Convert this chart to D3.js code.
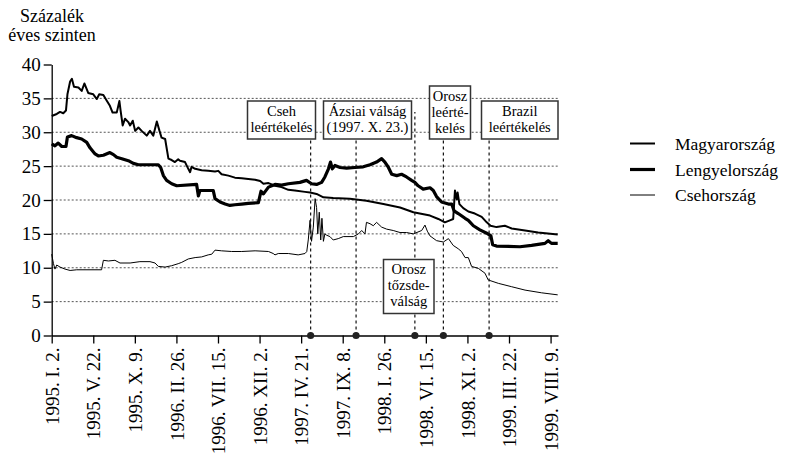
<!DOCTYPE html>
<html>
<head>
<meta charset="utf-8">
<script src="https://cdn.jsdelivr.net/npm/d3@7"></script>
<style>
  body { margin: 0; background: #fff; }
  svg, svg text { font-family: "Liberation Serif", "DejaVu Serif", "Times New Roman", serif !important; }
</style>
</head>
<body>
<svg id="chart" width="785" height="459" font-family="Liberation Serif, DejaVu Serif, serif"></svg>
<script>
// Tick dates (every 20 weeks) and their labels
const tickDates = ["1995-01-02", "1995-05-22", "1995-10-09", "1996-02-26", "1996-07-15", "1996-12-02",
                   "1997-04-21", "1997-09-08", "1998-01-26", "1998-06-15", "1998-11-02", "1999-03-22", "1999-08-09"];
const tickLabels = ["1995. I. 2.", "1995. V. 22.", "1995. X. 9.", "1996. II. 26.", "1996. VII. 15.", "1996. XII. 2.",
                    "1997. IV. 21.", "1997. IX. 8.", "1998. I. 26.", "1998. VI. 15.", "1998. XI. 2.", "1999. III. 22.", "1999. VIII. 9."];
const yTicks = [0, 5, 10, 15, 20, 25, 30, 35, 40];
const gridValues = [5, 10, 15, 20, 25, 30, 35];

// Magyarország
const magyar = [
  ["1995-01-02", 32.4], ["1995-01-19", 32.7], ["1995-01-30", 33.0], ["1995-02-10", 32.8], ["1995-02-19", 33.2],
  ["1995-02-24", 35.6], ["1995-03-05", 37.5], ["1995-03-11", 37.9], ["1995-03-18", 36.7], ["1995-04-02", 36.6],
  ["1995-04-13", 36.1], ["1995-04-22", 37.2], ["1995-05-05", 35.8], ["1995-05-22", 35.6], ["1995-06-03", 34.9],
  ["1995-06-11", 35.6], ["1995-06-25", 35.5], ["1995-07-06", 34.7], ["1995-07-17", 33.9], ["1995-07-26", 32.9],
  ["1995-08-09", 32.9], ["1995-08-18", 34.6], ["1995-08-22", 33.2], ["1995-08-29", 31.0], ["1995-09-06", 32.0],
  ["1995-09-17", 31.5], ["1995-09-23", 31.0], ["1995-10-02", 31.7], ["1995-10-10", 30.2], ["1995-10-21", 30.7],
  ["1995-11-01", 30.2], ["1995-11-18", 29.5], ["1995-11-29", 30.2], ["1995-12-10", 29.5], ["1995-12-22", 31.6],
  ["1995-12-31", 30.2], ["1996-01-07", 29.2], ["1996-01-19", 29.0], ["1996-01-30", 26.1], ["1996-02-10", 25.9],
  ["1996-02-21", 25.6], ["1996-03-03", 26.0], ["1996-03-09", 25.8], ["1996-03-26", 25.6], ["1996-04-06", 24.6],
  ["1996-04-12", 24.1], ["1996-04-17", 24.9], ["1996-04-29", 24.6], ["1996-05-21", 24.4], ["1996-06-12", 24.3],
  ["1996-07-05", 24.2], ["1996-07-16", 24.3], ["1996-07-27", 23.8], ["1996-08-19", 23.6], ["1996-09-10", 23.3],
  ["1996-10-03", 23.2], ["1996-10-25", 23.1], ["1996-11-17", 23.0], ["1996-12-04", 22.8], ["1996-12-15", 22.4],
  ["1997-01-01", 22.5], ["1997-01-23", 22.1], ["1997-02-14", 21.9], ["1997-03-09", 21.5], ["1997-03-31", 21.4],
  ["1997-05-04", 21.2], ["1997-05-21", 21.1], ["1997-06-12", 20.9], ["1997-07-05", 20.4], ["1997-08-07", 20.3],
  ["1997-10-02", 20.2], ["1997-11-27", 19.9], ["1998-01-23", 19.4], ["1998-03-20", 18.9], ["1998-05-04", 18.2],
  ["1998-06-29", 17.7], ["1998-07-27", 17.2], ["1998-08-18", 16.7], ["1998-09-04", 17.0], ["1998-09-15", 17.2],
  ["1998-09-21", 21.4], ["1998-09-27", 20.1], ["1998-09-30", 21.1], ["1998-10-06", 19.4], ["1998-10-19", 18.8],
  ["1998-11-05", 18.3], ["1998-11-27", 18.0], ["1998-12-20", 17.5], ["1999-01-06", 16.7], ["1999-01-19", 16.2],
  ["1999-02-08", 16.0], ["1999-03-08", 16.2], ["1999-03-31", 15.8], ["1999-05-15", 15.5], ["1999-06-28", 15.2],
  ["1999-09-02", 14.9]
];

// Lengyelország
const lengyel = [
  ["1995-01-02", 28.3], ["1995-01-13", 28.0], ["1995-01-24", 28.4], ["1995-02-05", 27.9], ["1995-02-19", 27.9],
  ["1995-02-24", 29.3], ["1995-03-10", 29.5], ["1995-03-27", 29.2], ["1995-04-13", 29.0], ["1995-04-30", 28.5],
  ["1995-05-11", 27.7], ["1995-05-28", 26.8], ["1995-06-08", 26.5], ["1995-06-25", 26.6], ["1995-07-17", 27.0],
  ["1995-07-29", 26.7], ["1995-08-09", 26.3], ["1995-08-26", 26.1], ["1995-09-17", 25.8], ["1995-10-04", 25.4],
  ["1995-10-21", 25.2], ["1995-11-29", 25.2], ["1995-12-27", 25.2], ["1996-01-04", 24.8], ["1996-01-13", 23.6],
  ["1996-01-24", 22.9], ["1996-02-10", 22.4], ["1996-02-27", 22.1], ["1996-05-04", 22.3], ["1996-05-10", 20.6],
  ["1996-05-15", 21.4], ["1996-06-29", 21.4], ["1996-07-05", 20.2], ["1996-07-22", 19.7], ["1996-08-08", 19.4],
  ["1996-08-24", 19.2], ["1996-09-10", 19.3], ["1996-10-03", 19.4], ["1996-10-25", 19.5], ["1996-11-28", 19.6],
  ["1996-12-07", 21.3], ["1996-12-15", 20.9], ["1997-01-01", 21.9], ["1997-01-23", 22.3], ["1997-02-14", 22.2],
  ["1997-03-09", 22.4], ["1997-04-17", 22.6], ["1997-05-09", 22.9], ["1997-05-26", 22.4], ["1997-06-12", 22.3],
  ["1997-06-29", 22.6], ["1997-07-10", 23.4], ["1997-07-22", 24.6], ["1997-07-29", 25.6], ["1997-08-04", 24.6],
  ["1997-08-13", 25.1], ["1997-08-30", 24.8], ["1997-09-21", 24.7], ["1997-10-19", 24.8], ["1997-11-16", 24.9],
  ["1997-12-09", 25.2], ["1997-12-31", 25.6], ["1998-01-17", 26.1], ["1998-01-28", 25.6], ["1998-02-09", 24.8],
  ["1998-02-20", 23.8], ["1998-03-09", 23.6], ["1998-03-25", 23.8], ["1998-04-11", 23.4], ["1998-04-28", 22.9],
  ["1998-05-09", 22.6], ["1998-05-20", 22.1], ["1998-06-06", 21.6], ["1998-06-29", 21.8], ["1998-07-10", 21.4],
  ["1998-07-21", 20.5], ["1998-08-07", 19.7], ["1998-08-30", 19.4], ["1998-09-10", 19.4], ["1998-09-18", 18.4],
  ["1998-10-02", 18.0], ["1998-10-25", 17.3], ["1998-11-05", 17.0], ["1998-11-22", 16.2], ["1998-12-14", 15.6],
  ["1999-01-06", 15.1], ["1999-01-20", 14.7], ["1999-01-26", 13.4], ["1999-02-08", 13.2], ["1999-04-28", 13.1],
  ["1999-06-06", 13.3], ["1999-07-21", 13.6], ["1999-08-01", 14.0], ["1999-08-12", 13.6], ["1999-09-02", 13.6]
];

// Csehország
const cseh = [
  ["1995-01-02", 12.0], ["1995-01-08", 10.6], ["1995-01-13", 9.8], ["1995-01-19", 10.4], ["1995-01-30", 10.1],
  ["1995-02-16", 9.8], ["1995-03-05", 9.6], ["1995-03-27", 9.7], ["1995-05-11", 9.7], ["1995-06-19", 9.7],
  ["1995-06-25", 11.1], ["1995-07-12", 11.0], ["1995-08-03", 11.1], ["1995-08-20", 10.7], ["1995-09-23", 10.7],
  ["1995-10-26", 10.9], ["1995-11-29", 10.9], ["1995-12-16", 10.7], ["1995-12-27", 10.2], ["1996-01-19", 10.1],
  ["1996-02-10", 10.3], ["1996-03-03", 10.6], ["1996-03-15", 10.8], ["1996-04-06", 11.3], ["1996-04-29", 11.5],
  ["1996-05-21", 11.6], ["1996-06-12", 11.9], ["1996-06-24", 12.0], ["1996-07-05", 12.6], ["1996-07-27", 12.5],
  ["1996-08-30", 12.4], ["1996-10-03", 12.4], ["1996-11-17", 12.5], ["1997-01-01", 12.4], ["1997-01-17", 12.1],
  ["1997-01-23", 11.9], ["1997-02-03", 12.1], ["1997-03-09", 12.1], ["1997-04-11", 11.9], ["1997-05-04", 12.1],
  ["1997-05-10", 12.4], ["1997-05-15", 14.1], ["1997-05-21", 17.0], ["1997-05-26", 13.9], ["1997-06-01", 16.0],
  ["1997-06-07", 20.2], ["1997-06-12", 18.9], ["1997-06-16", 15.0], ["1997-06-21", 18.2], ["1997-06-26", 14.1],
  ["1997-06-30", 17.3], ["1997-07-05", 13.9], ["1997-07-10", 15.0], ["1997-07-16", 14.8], ["1997-07-27", 14.6],
  ["1997-08-07", 14.1], ["1997-08-24", 14.3], ["1997-09-10", 14.6], ["1997-10-14", 14.6], ["1997-10-31", 15.0],
  ["1997-11-11", 15.5], ["1997-11-22", 15.0], ["1997-11-27", 16.7], ["1997-12-09", 16.5], ["1997-12-20", 16.2],
  ["1997-12-31", 16.7], ["1998-01-17", 16.0], ["1998-02-03", 15.7], ["1998-02-25", 15.5], ["1998-03-20", 15.2],
  ["1998-04-11", 15.2], ["1998-05-04", 15.0], ["1998-06-01", 15.5], ["1998-06-12", 16.3], ["1998-06-20", 15.4],
  ["1998-06-29", 14.7], ["1998-07-21", 14.0], ["1998-08-13", 13.8], ["1998-08-30", 14.3], ["1998-09-15", 13.3],
  ["1998-10-02", 12.8], ["1998-10-13", 12.4], ["1998-10-25", 11.5], ["1998-11-05", 11.5], ["1998-11-16", 10.2],
  ["1998-12-09", 9.9], ["1998-12-31", 9.2], ["1999-01-11", 8.2], ["1999-02-14", 7.7], ["1999-03-31", 7.2],
  ["1999-05-15", 6.7], ["1999-07-10", 6.3], ["1999-09-02", 6.0]
];

// Events marked on the time axis
const eventDates = ["1997-05-23", "1997-10-23", "1998-05-09", "1998-08-13", "1999-01-14"];
const eventLabels = [
  ["Cseh", "leértékelés"],
  ["Ázsiai válság", "(1997. X. 23.)"],
  ["Orosz", "tőzsde-", "válság"],
  ["Orosz", "leérté-", "kelés"],
  ["Brazil", "leértékelés"]
];

const seriesNames = ["Magyarország", "Lengyelország", "Csehország"];

const FONT = "Liberation Serif, DejaVu Serif, serif";
const parse = d3.timeParse("%Y-%m-%d");
const svg = d3.select("#chart");

const x = d3.scaleTime()
    .domain([parse("1995-01-02"), parse("1999-09-03")])
    .range([51.7, 558]);
const y = d3.scaleLinear()
    .domain([0, 40])
    .range([335.5, 64.5]);

// Axis title
svg.append("text").attr("x", 52).attr("y", 21.5).attr("text-anchor", "middle")
    .attr("font-family", FONT).style("font-size", "18px").text("Százalék");
svg.append("text").attr("x", 52).attr("y", 41).attr("text-anchor", "middle")
    .attr("font-family", FONT).style("font-size", "18px").text("éves szinten");

// Gridlines
svg.append("g").selectAll("line")
    .data(gridValues)
    .enter().append("line")
    .attr("x1", x.range()[0]).attr("x2", x.range()[1])
    .attr("y1", d => y(d)).attr("y2", d => y(d))
    .attr("stroke", "#555").attr("stroke-width", 1)
    .attr("stroke-dasharray", "2,2");

// Series lines
const line = d3.line()
    .x(d => x(parse(d[0])))
    .y(d => y(d[1]));

const series = [
  { data: cseh, width: 1 },
  { data: magyar, width: 2 },
  { data: lengyel, width: 3.2 }
];
series.forEach(s => {
  svg.append("path")
      .datum(s.data)
      .attr("fill", "none")
      .attr("stroke", "#000")
      .attr("stroke-width", s.width)
      .attr("stroke-linejoin", "round")
      .attr("d", line);
});

// Event boxes (layout only)
const boxes = [
  { x: 247.5, y: 101, w: 68, h: 38, lineTop: 139 },
  { x: 323.5, y: 101, w: 88, h: 38, lineTop: 139 },
  { x: 383.5, y: 259.5, w: 50.5, h: 54, lineTop: 112 },
  { x: 429.5, y: 86, w: 41, h: 53, lineTop: 139 },
  { x: 481.5, y: 101, w: 76.5, h: 38, lineTop: 139 }
];

eventDates.forEach((d, i) => {
  const ex = x(parse(d));
  svg.append("line")
      .attr("x1", ex).attr("x2", ex)
      .attr("y1", y(0)).attr("y2", boxes[i].lineTop)
      .attr("stroke", "#111").attr("stroke-width", 1.2)
      .attr("stroke-dasharray", "3,3");
});

eventLabels.forEach((lines, i) => {
  const b = boxes[i];
  const g = svg.append("g");
  g.append("rect")
      .attr("x", b.x).attr("y", b.y)
      .attr("width", b.w).attr("height", b.h)
      .attr("fill", "#fff").attr("stroke", "#333").attr("stroke-width", 1.5);
  lines.forEach((t, j) => {
    g.append("text")
        .attr("x", b.x + b.w / 2)
        .attr("y", b.y + 14.5 + j * 16)
        .attr("text-anchor", "middle")
        .attr("font-family", FONT)
        .style("font-size", "14.5px")
        .text(t);
  });
});

// Y axis
const yAxis = svg.append("g")
    .attr("transform", `translate(${x.range()[0]},0)`)
    .call(d3.axisLeft(y).tickValues(yTicks).tickSize(8).tickSizeOuter(0).tickPadding(3));
yAxis.attr("font-family", FONT);
yAxis.selectAll("text").style("font-size", "19px").attr("fill", "#000");
yAxis.selectAll("line, path").attr("stroke", "#000").attr("stroke-width", 1.3);

// X axis
const xAxis = svg.append("g")
    .attr("transform", `translate(0,${y(0)})`)
    .call(d3.axisBottom(x)
        .tickValues(tickDates.map(parse))
        .tickFormat((d, i) => tickLabels[i])
        .tickSize(8).tickSizeOuter(0));
xAxis.attr("font-family", FONT);
xAxis.selectAll("line, path").attr("stroke", "#000").attr("stroke-width", 1.3);
xAxis.selectAll("text")
    .style("font-size", "19px").attr("fill", "#000")
    .attr("transform", "rotate(-90)")
    .attr("text-anchor", "end")
    .attr("x", -12).attr("y", 0).attr("dy", "0.35em");

// Event dots on the axis
svg.append("g").selectAll("circle")
    .data(eventDates)
    .enter().append("circle")
    .attr("cx", d => x(parse(d)))
    .attr("cy", y(0))
    .attr("r", 3.6)
    .attr("fill", "#222");

// Legend
const legendWidths = [2, 3.2, 1];
const legendY = [143.5, 169.5, 195];
seriesNames.forEach((name, i) => {
  svg.append("line")
      .attr("x1", 630).attr("x2", 655)
      .attr("y1", legendY[i]).attr("y2", legendY[i])
      .attr("stroke", "#000").attr("stroke-width", legendWidths[i]);
  svg.append("text")
      .attr("x", 675).attr("y", legendY[i]).attr("dy", "0.35em")
      .attr("font-family", FONT)
      .style("font-size", "17.5px")
      .text(name);
});
</script>
</body>
</html>
